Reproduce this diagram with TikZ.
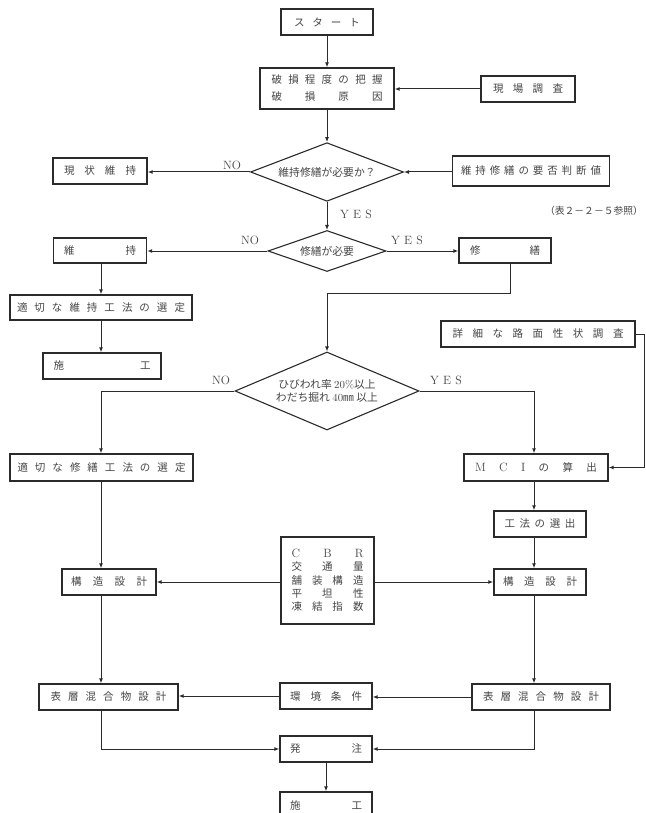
\documentclass[tikz,border=0pt]{standalone}
\usepackage{fontspec}
\newfontfamily\jp{Noto Sans CJK JP}
\usetikzlibrary{shapes.geometric,arrows.meta}
\definecolor{ink}{HTML}{2B2B2B}
\definecolor{txt}{HTML}{454545}
% letter-spaced text set across a fixed width
\newcommand\spreadtext[2]{\makebox[#1pt][s]{#2}}
\tikzset{
  box/.style={draw=ink, line width=1.4pt, fill=white, inner sep=0pt, text=txt,
    font=\jp\fontsize{10.5}{12}\selectfont},
  dia/.style={diamond, draw=ink, line width=1.1pt, inner sep=0pt, aspect=2,
    text=txt, align=center, font=\jp\fontsize{10.8}{13}\selectfont},
  flow/.style={draw=ink, line width=1pt, -{Latex[length=5pt,width=4pt]}},
  lab/.style={text=txt, inner sep=0pt, font=\rmfamily\fontsize{12}{14}\selectfont},
  note/.style={text=txt, inner sep=0pt, font=\jp\fontsize{9.8}{12}\selectfont},
}
\begin{document}
\begin{tikzpicture}[x=1pt,y=-1pt]
\fill[white] (0,0) rectangle (645,813);
\useasboundingbox (0,0) rectangle (645,813);

% column guides
\coordinate (colL) at (101,0);
\coordinate (colR) at (534,0);
\coordinate (repx) at (510,0);
\coordinate (jog) at (0,293);
\coordinate (edge) at (644,0);

% main column
\node[box, minimum width=92pt, minimum height=26pt] (start) at (327,22)
  {\spreadtext{66}{ス\hfill タ\hfill ー\hfill ト}};
\node[box, minimum width=134pt, minimum height=41pt, align=center,
      font=\jp\fontsize{10.5}{17}\selectfont] (damage) at (327,88.5)
  {\spreadtext{111}{破\hfill 損\hfill 程\hfill 度\hfill の\hfill 把\hfill 握}\\
   \spreadtext{111}{破\hfill 損\hfill 原\hfill 因}};
\node[box, minimum width=94pt, minimum height=26pt] (survey) at (528,89)
  {\spreadtext{70}{現\hfill 場\hfill 調\hfill 査}};

\node[dia, minimum width=153pt, minimum height=51pt] (dia1) at (327,172)
  {維持修繕が必要か？};
\node[box, minimum width=94pt, minimum height=26pt] (keep) at (100,171)
  {\spreadtext{72}{現\hfill 状\hfill 維\hfill 持}};
\node[box, minimum width=157pt, minimum height=30pt] (criteria) at (531,171)
  {\spreadtext{140}{維\hfill 持\hfill 修\hfill 繕\hfill の\hfill 要\hfill 否\hfill 判\hfill 断\hfill 値}};
\node[note] (ref) at (594,211) {（表２－２－５参照）};

\node[dia, minimum width=118pt, minimum height=41pt] (dia2) at (327,251)
  {修繕が必要};
\node[box, minimum width=93pt, minimum height=25pt] (maint) at (100,250.5)
  {\spreadtext{72}{維\hfill 持}};
\node[box, minimum width=92pt, minimum height=25pt] (repair) at (505,250.5)
  {\spreadtext{70}{修\hfill 繕}};

% maintenance branch
\node[box, minimum width=182pt, minimum height=25pt] (maintsel) at (101,307.5)
  {\spreadtext{168}{適\hfill 切\hfill な\hfill 維\hfill 持\hfill 工\hfill 法\hfill の\hfill 選\hfill 定}};
\node[box, minimum width=118pt, minimum height=26pt] (work1) at (102,366)
  {\spreadtext{97}{施\hfill 工}};

% repair branch
\node[box, minimum width=194pt, minimum height=26pt] (detail) at (538,334)
  {\spreadtext{171}{詳\hfill 細\hfill な\hfill 路\hfill 面\hfill 性\hfill 状\hfill 調\hfill 査}};
\node[dia, minimum width=184pt, minimum height=78pt] (dia3) at (327,391)
  {ひびわれ率 {\rmfamily 20\%}以上\\わだち掘れ {\rmfamily 40}㎜ 以上};

\node[box, minimum width=183pt, minimum height=27pt] (repsel) at (101.5,467.5)
  {\spreadtext{168}{適\hfill 切\hfill な\hfill 修\hfill 繕\hfill 工\hfill 法\hfill の\hfill 選\hfill 定}};
\node[box, minimum width=144pt, minimum height=27pt] (mci) at (536,467.5)
  {\spreadtext{122}{{\rmfamily\large M}\hfill {\rmfamily\large C}\hfill {\rmfamily\large I}\hfill の\hfill 算\hfill 出}};
\node[box, minimum width=92pt, minimum height=26pt] (method) at (540,524)
  {\spreadtext{71}{工\hfill 法\hfill の\hfill 選\hfill 出}};

\node[box, minimum width=93pt, minimum height=87pt, align=center,
      font=\jp\fontsize{10.5}{13.3}\selectfont] (cbr) at (327.5,580.5)
  {\spreadtext{72}{{\rmfamily\large C}\hfill {\rmfamily\large B}\hfill {\rmfamily\large R}}\\
   \spreadtext{72}{交\hfill 通\hfill 量}\\
   \spreadtext{72}{舗\hfill 装\hfill 構\hfill 造}\\
   \spreadtext{72}{平\hfill 坦\hfill 性}\\
   \spreadtext{72}{凍\hfill 結\hfill 指\hfill 数}};
\node[box, minimum width=94pt, minimum height=26pt] (structL) at (109,582)
  {\spreadtext{76}{構\hfill 造\hfill 設\hfill 計}};
\node[box, minimum width=92pt, minimum height=26pt] (structR) at (540,582)
  {\spreadtext{74}{構\hfill 造\hfill 設\hfill 計}};

\node[box, minimum width=139pt, minimum height=26pt] (surfL) at (108.5,697)
  {\spreadtext{116}{表\hfill 層\hfill 混\hfill 合\hfill 物\hfill 設\hfill 計}};
\node[box, minimum width=92pt, minimum height=26pt] (env) at (326,696)
  {\spreadtext{72}{環\hfill 境\hfill 条\hfill 件}};
\node[box, minimum width=138pt, minimum height=26pt] (surfR) at (541,697)
  {\spreadtext{116}{表\hfill 層\hfill 混\hfill 合\hfill 物\hfill 設\hfill 計}};

\node[box, minimum width=92pt, minimum height=26pt] (order) at (326,749)
  {\spreadtext{72}{発\hfill 注}};
\node[box, minimum width=92pt, minimum height=26pt] (work2) at (326,805)
  {\spreadtext{72}{施\hfill 工}};

% branch labels
\node[lab] (no1) at (232,165) {NO};
\node[lab] (yes1) at (356,214) {\spreadtext{32}{Y\hfill E\hfill S}};
\node[lab] (no2) at (250,240) {NO};
\node[lab] (yes2) at (407,240) {\spreadtext{32}{Y\hfill E\hfill S}};
\node[lab] (no3) at (221,380) {NO};
\node[lab] (yes3) at (446,380) {\spreadtext{32}{Y\hfill E\hfill S}};

% connectors
\draw[flow] (start) -- (damage);
\draw[flow] (survey.west) -- (survey.west -| damage.east);
\draw[flow] (damage) -- (dia1);
\draw[flow] (dia1.west) -- (dia1.west -| keep.east);
\draw[flow] (dia1.east -| criteria.west) -- (dia1.east);
\draw[flow] (dia1) -- (dia2);
\draw[flow] (dia2.west) -- (dia2.west -| maint.east);
\draw[flow] (dia2.east) -- (dia2.east -| repair.west);
\draw[flow] (maint.south -| colL) -- (maintsel.north -| colL);
\draw[flow] (maintsel.south -| colL) -- (work1.north -| colL);
\draw[flow] (repair.south -| repx) -- (repx |- jog) -- (dia3.north |- jog) -- (dia3.north);
\draw[flow] (dia3.west) -| (repsel.north -| colL);
\draw[flow] (dia3.east) -| (mci.north -| colR);
\draw[flow] (detail.east) -- (detail.east -| edge) -- (edge |- mci.east) -- (mci.east);
\draw[flow] (repsel.south -| colL) -- (structL.north -| colL);
\draw[flow] (mci.south -| colR) -- (method.north -| colR);
\draw[flow] (method.south -| colR) -- (structR.north -| colR);
\draw[flow] (cbr.west |- structL.east) -- (structL.east);
\draw[flow] (cbr.east |- structR.west) -- (structR.west);
\draw[flow] (structL.south -| colL) -- (surfL.north -| colL);
\draw[flow] (structR.south -| colR) -- (surfR.north -| colR);
\draw[flow] (surfR.west) -- (surfR.west -| env.east);
\draw[flow] (env.west) -- (env.west -| surfL.east);
\draw[flow] (surfL.south -| colL) |- (order.west);
\draw[flow] (surfR.south -| colR) |- (order.east);
\draw[flow] (order) -- (work2);
\end{tikzpicture}
\end{document}
